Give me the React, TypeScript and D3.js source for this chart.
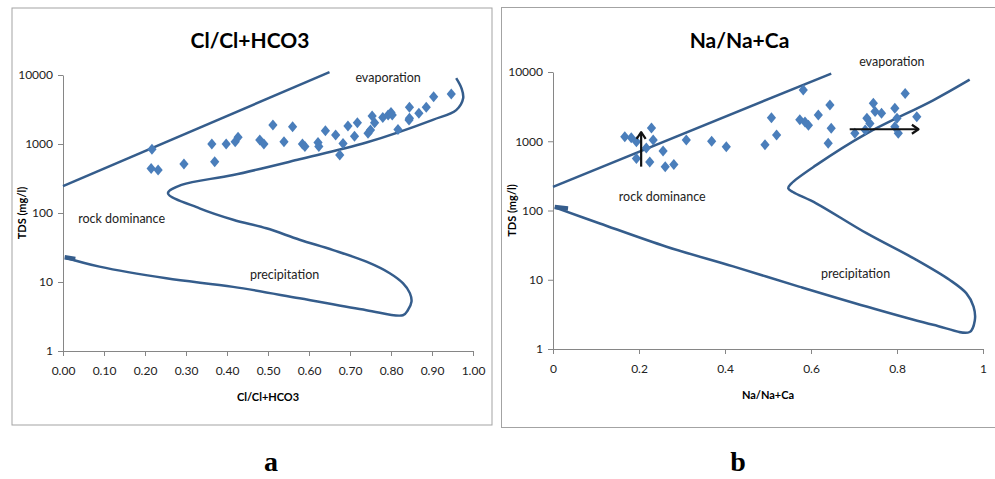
import React, { useEffect, useRef } from "react";
import * as d3 from "d3";

// axis ticks
const tdsTicks = [1, 10, 100, 1000, 10000];
const clTicks = [0, 0.1, 0.2, 0.3, 0.4, 0.5, 0.6, 0.7, 0.8, 0.9, 1];
const naTicks = [0, 0.2, 0.4, 0.6, 0.8, 1];

// panel a: Cl/(Cl+HCO3) vs TDS
const clUpperLine = [[0, 245], [0.65, 11000]];
const clStub = [[0.004, 22.8], [0.03, 21.6]];
const clBoomerang = [
  [0.006, 22.5], [0.089, 16.7], [0.252, 11.3], [0.415, 8.5], [0.577, 5.8], [0.74, 3.9], [0.829, 3.3],
  [0.841, 3.9], [0.85, 5.2], [0.846, 6.9], [0.829, 9.6], [0.797, 13.4], [0.74, 19.7], [0.659, 29],
  [0.577, 41], [0.496, 60], [0.415, 80], [0.333, 117], [0.256, 193],
  [0.289, 255], [0.415, 355], [0.577, 600], [0.74, 1050], [0.902, 2240], [0.959, 3100],
  [0.976, 4600], [0.972, 6400], [0.959, 9000],
];
const clSamples = [
  [0.217, 837], [0.215, 443], [0.232, 420], [0.295, 513], [0.363, 1000], [0.37, 555],
  [0.398, 1000], [0.42, 1080], [0.427, 1250], [0.48, 1143], [0.49, 1000], [0.512, 1884],
  [0.539, 1080], [0.56, 1780], [0.584, 1000], [0.59, 920], [0.622, 1050], [0.624, 920],
  [0.64, 1550], [0.665, 1350], [0.675, 690], [0.683, 1020], [0.695, 1820], [0.711, 1300],
  [0.718, 2040], [0.744, 1430], [0.75, 1590], [0.754, 2550], [0.76, 2040], [0.78, 2430],
  [0.793, 2630], [0.8, 2870], [0.803, 2630], [0.817, 1620], [0.844, 2230], [0.845, 2370],
  [0.845, 3400], [0.868, 2780], [0.886, 3400], [0.904, 4850], [0.947, 5300],
];
const clNotes = [
  { text: "evaporation", x: 0.793, tds: 9300, anchor: "middle" },
  { text: "rock dominance", x: 0.037, tds: 82, anchor: "start" },
  { text: "precipitation", x: 0.456, tds: 13, anchor: "start" },
];

// panel b: Na/(Na+Ca) vs TDS
const naUpperLine = [[0, 220], [0.647, 9500]];
const naStub = [[0.004, 112], [0.035, 107]];
const naBoomerang = [
  [0.004, 111], [0.109, 65], [0.264, 30], [0.419, 15.6], [0.574, 7.9], [0.729, 4.1], [0.884, 2.24],
  [0.969, 1.76], [0.981, 2.6], [0.978, 4.1], [0.961, 6.4], [0.922, 10], [0.845, 19.4], [0.729, 47],
  [0.612, 127], [0.558, 185], [0.547, 209], [0.554, 245], [0.612, 452], [0.729, 1290],
  [0.884, 3900], [0.969, 7750],
];
const naSamples = [
  [0.167, 1160], [0.182, 1120], [0.194, 980], [0.229, 1550], [0.233, 1040], [0.217, 800],
  [0.194, 565], [0.225, 500], [0.256, 725], [0.261, 430], [0.281, 460], [0.31, 1040],
  [0.369, 1000], [0.403, 830], [0.493, 890], [0.52, 1230], [0.508, 2190], [0.582, 5500],
  [0.574, 2040], [0.594, 1700], [0.586, 1900], [0.617, 2400], [0.644, 3330], [0.647, 1540],
  [0.64, 935], [0.702, 1300], [0.73, 2140], [0.745, 3540], [0.737, 1810], [0.749, 2680],
  [0.764, 2530], [0.726, 1450], [0.795, 3000], [0.8, 2140], [0.795, 1620], [0.803, 1300],
  [0.819, 4900], [0.846, 2250],
];
const naArrows = [
  [[0.205, 430], [0.205, 1350]],
  [[0.69, 1490], [0.85, 1490]],
];
const naNotes = [
  { text: "evaporation", x: 0.712, tds: 13900, anchor: "start" },
  { text: "rock dominance", x: 0.153, tds: 157, anchor: "start" },
  { text: "precipitation", x: 0.623, tds: 12.1, anchor: "start" },
];

const LINE = "#355d8c";
const DOT = "#4a7ebb";
const AXIS = "#868686";
const FONT = "Lato, 'Open Sans', sans-serif";

const diamond = {
  draw(ctx: any) {
    ctx.moveTo(0, -5.5);
    ctx.lineTo(4.6, 0);
    ctx.lineTo(0, 5.5);
    ctx.lineTo(-4.6, 0);
    ctx.closePath();
  },
};

const panels = [
  {
    id: "a", title: "Cl/Cl+HCO3", xTitle: "Cl/Cl+HCO3", ticks: clTicks, fmt: d3.format(".2f"),
    frame: [12, 8, 480, 417], left: 63, right: 473, top: 75, bottom: 351,
    upper: clUpperLine, stub: clStub, curve: clBoomerang, samples: clSamples, notes: clNotes, arrows: [],
    letterX: 271,
  },
  {
    id: "b", title: "Na/Na+Ca", xTitle: "Na/Na+Ca", ticks: naTicks, fmt: d3.format("~g"),
    frame: [501.5, 7.5, 500, 420], left: 553, right: 983, top: 72, bottom: 349,
    upper: naUpperLine, stub: naStub, curve: naBoomerang, samples: naSamples, notes: naNotes, arrows: naArrows,
    letterX: 738,
  },
];

const Panel = ({ p }: { p: any }) => {
  const ref = useRef<SVGGElement>(null);

  useEffect(() => {
    const g = d3.select(ref.current);
    g.selectAll("*").remove();

    const x = d3.scaleLinear().domain([0, 1]).range([p.left, p.right]);
    const y = d3.scaleLog().domain([1, 10000]).range([p.bottom, p.top]);
    const midX = (p.left + p.right) / 2;

    // frame
    g.append("rect")
      .attr("x", p.frame[0]).attr("y", p.frame[1])
      .attr("width", p.frame[2]).attr("height", p.frame[3])
      .attr("fill", "white").attr("stroke", "#a3a3a3").attr("stroke-width", 1);

    // title
    g.append("text")
      .attr("x", p.frame[0] + 238).attr("y", 48)
      .attr("text-anchor", "middle")
      .style("font-family", FONT).style("font-weight", "bold").style("font-size", "21px")
      .text(p.title);

    // axes
    const xAxis = g.append("g")
      .attr("transform", `translate(0,${p.bottom})`)
      .call(d3.axisBottom(x).tickValues(p.ticks).tickFormat(p.fmt).tickSize(5).tickSizeOuter(0).tickPadding(10));
    const yAxis = g.append("g")
      .attr("transform", `translate(${p.left},0)`)
      .call(d3.axisLeft(y).tickValues(tdsTicks).tickFormat(d3.format("d")).tickSize(5).tickSizeOuter(0).tickPadding(5));
    [xAxis, yAxis].forEach(a => {
      a.select(".domain").attr("stroke", AXIS);
      a.selectAll(".tick line").attr("stroke", AXIS);
      a.selectAll(".tick text").attr("fill", "#222").style("font-family", FONT).style("font-size", "12px");
    });

    g.append("text")
      .attr("x", midX).attr("y", p.bottom + 50)
      .attr("text-anchor", "middle")
      .style("font-family", FONT).style("font-weight", "bold").style("font-size", "11px")
      .text(p.xTitle);
    g.append("text")
      .attr("transform", `translate(${p.frame[0] + 14},${(p.top + p.bottom) / 2}) rotate(-90)`)
      .attr("text-anchor", "middle")
      .style("font-family", FONT).style("font-weight", "bold").style("font-size", "11px")
      .text("TDS (mg/l)");

    // Gibbs boundaries
    const line = d3.line<any>().x(d => x(d[0])).y(d => y(d[1]));
    g.append("path").attr("d", line(p.upper))
      .attr("fill", "none").attr("stroke", LINE).attr("stroke-width", 2.5);
    g.append("path").attr("d", line.curve(d3.curveCatmullRom.alpha(0.5))(p.curve))
      .attr("fill", "none").attr("stroke", LINE).attr("stroke-width", 2.5).attr("stroke-linejoin", "round");
    g.append("path").attr("d", d3.line<any>().x(d => x(d[0])).y(d => y(d[1]))(p.stub))
      .attr("fill", "none").attr("stroke", LINE).attr("stroke-width", 4.5);

    // samples
    g.selectAll(".pt")
      .data(p.samples)
      .enter().append("path")
      .attr("class", "pt")
      .attr("transform", (d: any) => `translate(${x(d[0])},${y(d[1])})`)
      .attr("d", d3.symbol().type(diamond as any)())
      .attr("fill", DOT);

    // arrows
    p.arrows.forEach((a: any) => {
      const [x0, y0] = [x(a[0][0]), y(a[0][1])];
      const [x1, y1] = [x(a[1][0]), y(a[1][1])];
      const ang = Math.atan2(y1 - y0, x1 - x0);
      g.append("line")
        .attr("x1", x0).attr("y1", y0).attr("x2", x1).attr("y2", y1)
        .attr("stroke", "#111").attr("stroke-width", 2.2);
      const h = 8;
      const pts = [-0.6, 0.6].map(s => [x1 - h * Math.cos(ang + s), y1 - h * Math.sin(ang + s)]);
      g.append("path")
        .attr("d", `M${pts[0][0]},${pts[0][1]}L${x1},${y1}L${pts[1][0]},${pts[1][1]}`)
        .attr("fill", "none").attr("stroke", "#111").attr("stroke-width", 2.2).attr("stroke-linejoin", "round");
    });

    // region labels
    g.selectAll(".note")
      .data(p.notes)
      .enter().append("text")
      .attr("class", "note")
      .attr("x", (d: any) => x(d.x)).attr("y", (d: any) => y(d.tds))
      .attr("dy", "0.35em")
      .attr("text-anchor", (d: any) => d.anchor)
      .attr("fill", "#222")
      .style("font-family", FONT).style("font-size", "12.5px")
      .text((d: any) => d.text);

    // panel letter
    g.append("text")
      .attr("x", p.letterX).attr("y", 471)
      .attr("text-anchor", "middle")
      .style("font-family", "'Liberation Serif', 'Times New Roman', serif")
      .style("font-weight", "bold").style("font-size", "28px")
      .text(p.id);
  }, [p]);

  return <g ref={ref} />;
};

export default function App() {
  return (
    <svg width={995} height={479} style={{ position: "absolute", left: 0, top: 0, background: "white" }}>
      <rect width={995} height={479} fill="white" />
      {panels.map(p => <Panel key={p.id} p={p} />)}
    </svg>
  );
}
